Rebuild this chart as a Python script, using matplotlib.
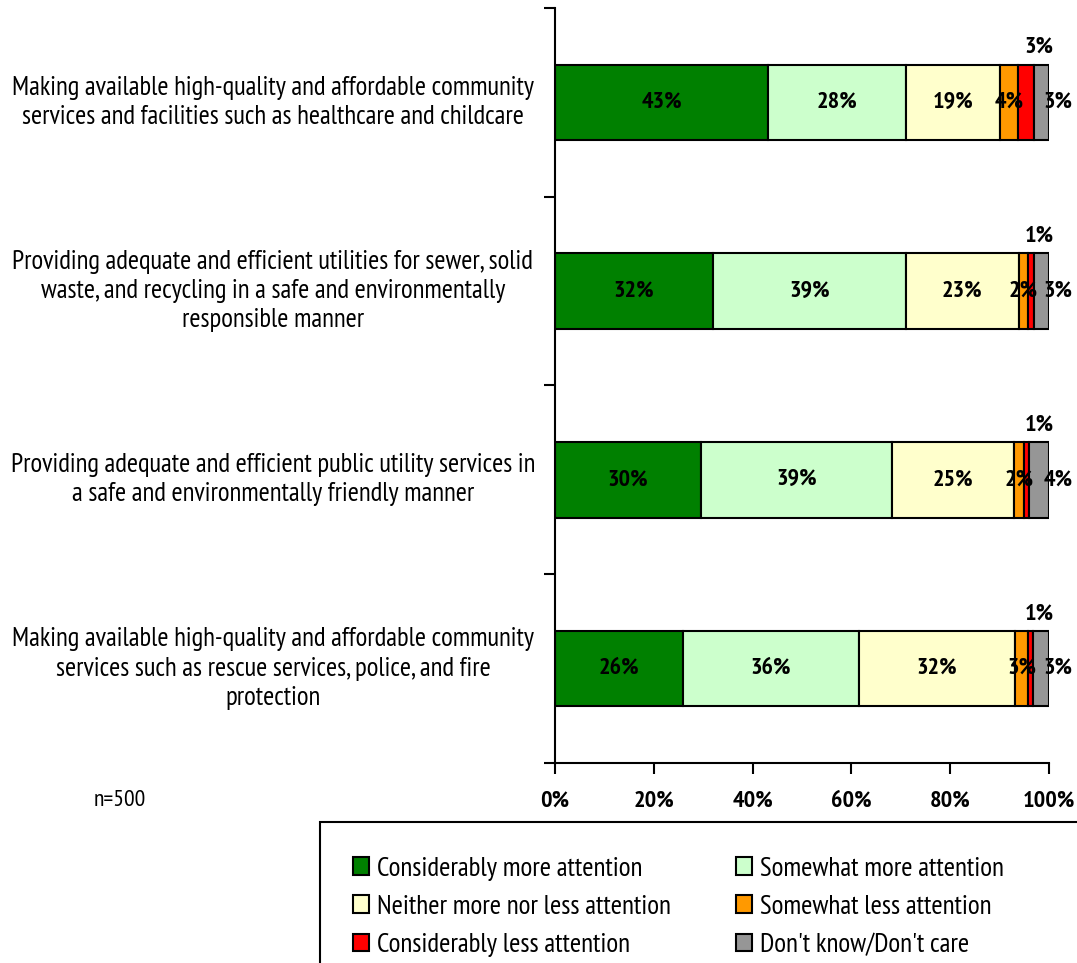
import matplotlib
matplotlib.use("Agg")
import matplotlib.pyplot as plt
from matplotlib import font_manager as fm
from matplotlib.patches import Rectangle, Patch

# pick a narrow sans font (Arial Narrow look-alike) that has regular and bold
candidates = ['Liberation Sans Narrow', 'Arial Narrow', 'Archivo Narrow', 'PT Sans Narrow',
              'Roboto Condensed', 'Pragati Narrow', 'IBM Plex Sans Condensed',
              'Encode Sans Condensed', 'Fira Sans Condensed', 'Open Sans Condensed']
have = {}
for f in fm.fontManager.ttflist:
    have.setdefault(f.name, set()).add(f.weight)
narrow = 'DejaVu Sans'
for c in candidates:
    w = have.get(c, set())
    if any(x in (400, 'normal', 'regular') for x in w) and any(x in (700, 'bold') for x in w):
        narrow = c
        break
plt.rcParams['font.family'] = [narrow, 'DejaVu Sans']

categories = [
    "Making available high-quality and affordable community\nservices and facilities such as healthcare and childcare",
    "Providing adequate and efficient utilities for sewer, solid\nwaste, and recycling in a safe and environmentally\nresponsible manner",
    "Providing adequate and efficient public utility services in\na safe and environmentally friendly manner",
    "Making available high-quality and affordable community\nservices such as rescue services, police, and fire\nprotection",
]
series = ["Considerably more attention", "Somewhat more attention",
          "Neither more nor less attention", "Somewhat less attention",
          "Considerably less attention", "Don't know/Don't care"]
cons_more = [43.1, 32.0, 29.6, 25.9]
some_more = [27.9, 39.0, 38.6, 35.6]
neither = [19.0, 22.9, 24.8, 31.6]
some_less = [3.8, 1.8, 2.0, 2.7]
cons_less = [3.1, 1.2, 1.0, 1.0]
dont_know = [3.1, 3.1, 4.0, 3.2]
colors = ["#008000", "#CCFFCC", "#FFFFCC", "#FF9900", "#FF0000", "#969696"]

data = [cons_more, some_more, neither, some_less, cons_less, dont_know]

fig = plt.figure(figsize=(10.77, 9.63), dpi=100)
W, H = 1077, 963
ax = fig.add_axes([555 / W, 1 - 763 / H, 494 / W, 755 / H])

ypos = list(range(len(categories)))
left = [0.0] * len(categories)
for vals, col, name in zip(data, colors, series):
    ax.barh(ypos, vals, left=left, height=0.4, color=col, edgecolor='black',
            linewidth=1.5, label=name)
    left = [l + v for l, v in zip(left, vals)]

# labels
for i in ypos:
    start = 0
    for k, vals in enumerate(data):
        v = vals[i]
        txt = f"{round(v)}%"
        if k <= 3:
            ax.text(start + v / 2, i, txt, ha='center', va='center',
                    fontsize=17.5, fontweight='bold')
        elif k == 4:
            ax.text(98.0, i - 0.29, txt, ha='center', va='center',
                    fontsize=17.5, fontweight='bold')
        else:
            ax.text(101.8, i, txt, ha='center', va='center',
                    fontsize=17.5, fontweight='bold', clip_on=False)
        start += v

ax.set_xlim(0, 100)
ax.set_ylim(3.5, -0.5)
ax.set_xticks([0, 20, 40, 60, 80, 100])
ax.set_xticklabels(["0%", "20%", "40%", "60%", "80%", "100%"], fontsize=17.5,
                   fontweight='bold')
ax.set_yticks([-0.5, 0.5, 1.5, 2.5, 3.5])
ax.set_yticklabels([])
ax.tick_params(axis='both', direction='out', length=8, width=1.5)
ax.tick_params(axis='x', pad=12)
ax.spines['top'].set_visible(False)
ax.spines['right'].set_visible(False)
ax.spines['left'].set_linewidth(1.5)
ax.spines['bottom'].set_linewidth(1.5)

for i, c in enumerate(categories):
    ax.text(-0.571 * 100, i, c, ha='center', va='center', multialignment='center',
            fontsize=19.3, linespacing=1.27, clip_on=False)

fig.text(120 / W, 1 - 800 / H, "n=500", ha='center', va='center', fontsize=17)

# legend frame
fig.patches.append(Rectangle((320 / W, -0.05), 800 / W, (0.05 + 1 - 822 / H),
                             transform=fig.transFigure, fill=False,
                             edgecolor='black', linewidth=1.5))
order = [0, 2, 4, 1, 3, 5]
handles = [Patch(facecolor=colors[k], edgecolor='black', linewidth=1.5) for k in order]
fig.legend(handles, [series[k] for k in order], ncol=2, loc='upper left',
           bbox_to_anchor=(339 / W, 1 - 843 / H), frameon=False, fontsize=19.5,
           handlelength=0.6, handleheight=0.6, handletextpad=0.3,
           columnspacing=2.4, labelspacing=0.52, borderpad=0)

fig.savefig("out.png", dpi=100)
